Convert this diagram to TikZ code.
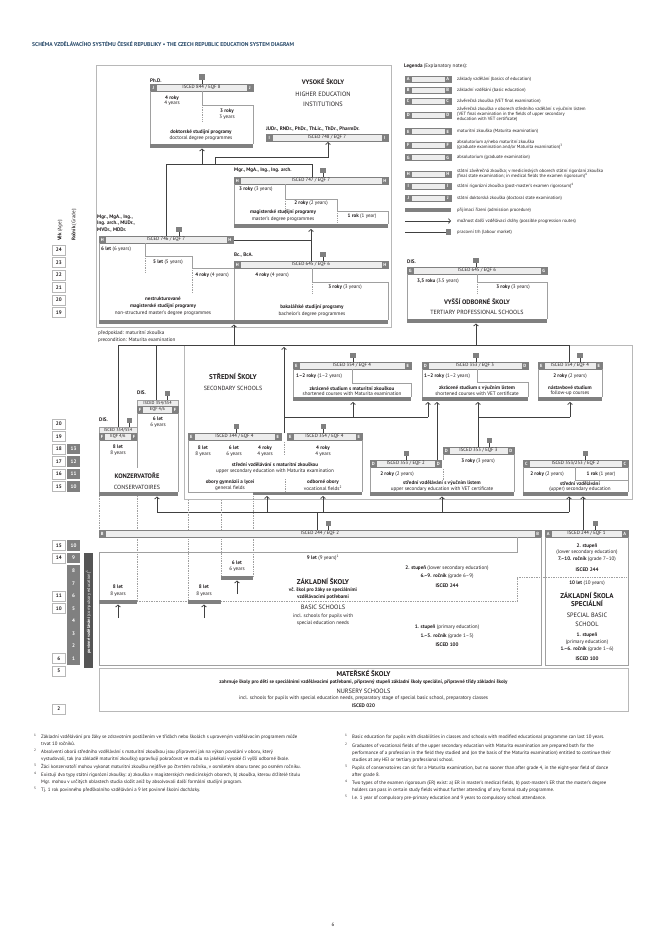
\documentclass[tikz,border=0pt]{standalone}
\usepackage{fontspec}
\setmainfont{PT Sans}
\usetikzlibrary{arrows.meta}
\definecolor{dk}{RGB}{128,128,128}
\definecolor{lt}{RGB}{237,237,237}
\definecolor{fr}{RGB}{184,184,184}
\definecolor{olc}{RGB}{160,160,160}
\definecolor{ln}{RGB}{64,64,64}
\definecolor{txc}{RGB}{35,31,32}
\definecolor{ttl}{RGB}{38,72,104}
\definecolor{cmp}{RGB}{85,85,85}
\tikzset{
 tx/.style={inner sep=0pt,font=\fontsize{5.1}{6}\selectfont,text=txc},
 tb/.style={inner sep=0pt,font=\fontsize{5.1}{6}\selectfont\bfseries,text=txc},
 tbig/.style={inner sep=0pt,font=\fontsize{7}{8}\selectfont\bfseries,text=txc},
 tmid/.style={inner sep=0pt,font=\fontsize{6.3}{7}\selectfont,text=txc},
 lgt/.style={inner sep=0pt,font=\fontsize{4.6}{5.3}\selectfont,text=txc,align=left},
 fnt/.style={inner sep=0pt,font=\fontsize{4.85}{5.3}\selectfont,text=txc},
 lettx/.style={inner sep=0pt,font=\fontsize{4.5}{5}\selectfont\bfseries,text=white},
 btx/.style={inner sep=0pt,font=\fontsize{4.8}{5}\selectfont,text=txc},
 frm/.style={draw=fr,line width=0.8pt},
 outl/.style={draw=olc,line width=0.6pt},
 dotln/.style={draw=olc,line width=0.5pt,dash pattern=on 0.6pt off 1.1pt},
 con/.style={draw=ln,line width=0.75pt},
 arr/.style={draw=ln,line width=0.75pt,-{Straight Barb[length=2pt,width=4.6pt]}},
}
\newcommand{\iscbar}[5]{%
 \draw[draw=dk,fill=lt,line width=0.5pt] (#1,#3) rectangle (#2,#3+7);
 \fill[dk] (#1,#3) rectangle (#1+6.5,#3+7);
 \fill[dk] (#2-6.5,#3) rectangle (#2,#3+7);
 \node[lettx] at (#1+3.25,#3+3.6) {#4};
 \node[lettx] at (#2-3.25,#3+3.6) {#4};
 \node[btx] at ({(#1+#2)/2},#3+3.6) {#5};}
\newcommand{\labsq}[2]{%
 \draw[con,line width=0.6pt] (#1,#2-4) -- (#1,#2);
 \fill[dk] (#1-2.7,#2-9.5) rectangle (#1+2.7,#2-4);}
\newcommand{\exbar}[3]{\fill[dk] (#1,#3) rectangle (#2,#3+3.5);}
\newcommand{\lgbar}[2]{%
 \draw[draw=dk,fill=lt,line width=0.5pt] (405,#1-3.2) rectangle (451,#1+3.2);
 \fill[dk] (405,#1-3.2) rectangle (411.5,#1+3.2);
 \fill[dk] (444.5,#1-3.2) rectangle (451,#1+3.2);
 \node[lettx] at (408.25,#1) {#2};
 \node[lettx] at (447.75,#1) {#2};}
\newcommand{\agebx}[2]{\draw[draw=fr,fill=white,line width=0.6pt] (52,#1-5.2) rectangle (65.5,#1+5.2); \node[tb] at (58.75,#1) {#2};}
\newcommand{\grbx}[2]{\fill[dk] (67,#1-5.2) rectangle (80,#1+5.2); \node[tb,text=white] at (73.5,#1) {#2};}
\begin{document}
\begin{tikzpicture}[x=1pt,y=-1pt]
\useasboundingbox[fill=white] (0,0) rectangle (667,947);
% title
\node[anchor=west,inner sep=0pt,font=\fontsize{5.6}{6}\selectfont\bfseries,text=ttl] (title) at (32,44) {SCHÉMA VZDĚLÁVACÍHO SYSTÉMU ČESKÉ REPUBLIKY • THE CZECH REPUBLIC EDUCATION SYSTEM DIAGRAM};
% legend
\node[tx,anchor=west] (leg) at (404,66) {\textbf{Legenda} (Explanatory notes):};
\lgbar{79}{A}\node[lgt,anchor=west] at (457,79) {základy vzdělání (basics of education)};
\lgbar{90}{B}\node[lgt,anchor=west] at (457,90) {základní vzdělání (basic education)};
\lgbar{101}{C}\node[lgt,anchor=west] at (457,101) {závěrečná zkouška (VET final examination)};
\lgbar{115}{D}\node[lgt,anchor=west] at (457,114.5) {závěrečná zkouška v oborech středního vzdělání s výučním listem\\(VET final examination in the fields of upper secondary\\education with VET certificate)};
\lgbar{131.5}{E}\node[lgt,anchor=west] at (457,131.5) {maturitní zkouška (Maturita examination)};
\lgbar{145}{F}\node[lgt,anchor=west] at (457,145) {absolutorium a/nebo maturitní zkouška\\(graduate examination and/or Maturita examination)\textsuperscript{3}};
\lgbar{157.5}{G}\node[lgt,anchor=west] at (457,157.5) {absolutorium (graduate examination)};
\lgbar{174}{H}\node[lgt,anchor=west] at (457,174) {státní závěrečná zkouška; v medicínských oborech státní rigorózní zkouška\\(final state examination; in medical fields the examen rigorosum)\textsuperscript{4}};
\lgbar{186}{I}\node[lgt,anchor=west] at (457,186) {státní rigorózní zkouška (post-master's examen rigorosum)\textsuperscript{4}};
\lgbar{198}{J}\node[lgt,anchor=west] at (457,198) {státní doktorská zkouška (doctoral state examination)};
\fill[dk] (405,208) rectangle (451,212);\node[lgt,anchor=west] at (457,210) {přijímací řízení (admission procedure)};
\coordinate (la1) at (405,221);\coordinate (la2) at (451,221);
\draw[arr] (la1) -- (la2);\node[lgt,anchor=west] at (457,221) {možnost další vzdělávací dráhy (possible progression routes)};
\draw[con] (405,232) -- (446,232);\fill[dk] (445.5,229.3) rectangle (451,234.7);\node[lgt,anchor=west] at (457,232) {pracovní trh (labour market)};
% ===== higher education frame
\draw[frm] (96,65) rectangle (391,327);
\node[tbig,font=\fontsize{6.5}{7}\selectfont\bfseries] (vs) at (323,82) {VYSOKÉ ŠKOLY};
\node[tmid] at (323,94) {HIGHER EDUCATION};
\node[tmid] at (323,104) {INSTITUTIONS};
% PhD
\node[tb,anchor=west] at (150,80.5) {Ph.D.};
\labsq{202}{84}
\iscbar{150}{253}{84}{J}{ISCED 844 / EQF 8}
\draw[outl] (150,91) -- (150,144);
\draw[outl] (202,91) -- (202,105) -- (253,105) -- (253,144);
\draw[dotln] (202,107) -- (202,122);
\node[tb] at (172,98) {4 roky};\node[tx] at (172,103.5) {4 years};
\node[tb] at (227,111) {3 roky};\node[tx] at (227,117) {3 years};
\node[tb] at (201,132) {doktorské studijní programy};
\node[tx] at (201,138.5) {doctoral degree programmes};
\exbar{150}{253}{144}
% JUDr
\node[tb,anchor=west] at (266,129) {JUDr., RNDr., PhDr., ThLic., ThDr., PharmDr.};
\iscbar{266}{388}{134}{I}{ISCED 748 / EQF 7}
% connectors top
\coordinate (h1) at (166,164);\coordinate (h2) at (312,164);
\draw[con] (h1) -- (h2);
\draw[arr] (202,164) -- (202,148.5);
\draw[arr] (215,164) -- (215,157) -- (328,157) -- (328,142);
\draw[con] (166,236) -- (h1);
\draw[con] (312,177) -- (h2);
% master 747
\node[tb,anchor=west] at (234,170) {Mgr., MgA., Ing., Ing. arch.};
\labsq{323}{177}
\iscbar{234}{388}{177}{H}{ISCED 747 / EQF 7}
\draw[outl] (234,184) -- (234,224);
\draw[outl] (285,184) -- (285,199) -- (337,199) -- (337,211) -- (388,211) -- (388,224);
\draw[dotln] (285,201) -- (285,214);
\draw[dotln] (337,213) -- (337,222);
\node[tx,anchor=west] at (239,189) {\textbf{3 roky} (3 years)};
\node[tx] at (311,203) {\textbf{2 roky} (2 years)};
\node[tb] at (283,212) {magisterské studijní programy};
\node[tx] at (283,219) {master's degree programmes};
\node[tx] at (362,216) {\textbf{1 rok} (1 year)};
\exbar{234}{388}{224}
\draw[arr] (311,261) -- (311,229);
\draw[con] (233,240) -- (311,240);
% 746
\node[tb,anchor=west] at (97,217) {Mgr., MgA., Ing.,};
\node[tb,anchor=west] at (97,223.5) {Ing. arch., MUDr.,};
\node[tb,anchor=west] at (97,230) {MVDr., MDDr.};
\labsq{179}{236}
\iscbar{99}{233}{236}{H}{ISCED 746 / EQF 7}
\draw[outl] (99,243) -- (99,320);
\draw[outl] (145,243) -- (145,256) -- (192,256) -- (192,268) -- (234,268) -- (234,320);
\draw[dotln] (145,258) -- (145,272);
\draw[dotln] (192,270) -- (192,293);
\node[tx,anchor=west] at (101,249) {\textbf{6 let} (6 years)};
\node[tx] at (168,262) {\textbf{5 let} (5 years)};
\node[tx] at (212,275) {\textbf{4 roky} (4 years)};
\node[tb] at (163,299) {nestrukturované};
\node[tb] at (163,306) {magisterské studijní programy};
\node[tx] at (163,313) {non-structured master's degree programmes};
\exbar{99}{234}{320}
% 645
\node[tb,anchor=west] at (234,255) {Bc., BcA.};
\labsq{323}{261}
\iscbar{234}{388}{261}{H}{ISCED 645 / EQF 6}
\draw[outl] (312,268) -- (312,282) -- (388,282) -- (388,320);
\draw[dotln] (312,284) -- (312,294);
\node[tx] at (272,275) {\textbf{4 roky} (4 years)};
\node[tx] at (345,287) {\textbf{3 roky} (3 years)};
\node[tb] at (312,307) {bakalářské studijní programy};
\node[tx] at (312,314) {bachelor's degree programmes};
\exbar{234}{388}{320}
\node[tx,anchor=west] at (98,333) {předpoklad: maturitní zkouška};
\node[tx,anchor=west] at (98,340) {precondition: Maturita examination};
% VOS
\node[tb,anchor=west] at (407,262) {DIS.};
\labsq{476}{267}
\iscbar{407}{547}{267}{G}{ISCED 645 / EQF 6}
\draw[outl] (407,274) -- (407,319);
\draw[outl] (477,274) -- (477,282) -- (547,282) -- (547,319);
\draw[dotln] (477,284) -- (477,294);
\node[tx] at (438,281) {\textbf{3,5 roku} (3.5 years)};
\node[tx] at (513,287) {\textbf{3 roky} (3 years)};
\node[tbig,font=\fontsize{6.5}{7}\selectfont\bfseries] at (477,302) {VYŠŠÍ ODBORNÉ ŠKOLY};
\node[tmid,font=\fontsize{6}{7}\selectfont] at (477,312) {TERTIARY PROFESSIONAL SCHOOLS};
\exbar{407}{547}{319}
% ===== secondary frame
\draw[frm] (184,345) rectangle (632,499);
\coordinate (m1) at (118,345);\coordinate (m2) at (569,345);
\draw[con] (m1) -- (m2);
\draw[arr] (234,345) -- (234,324.5);
\draw[arr] (476,345) -- (476,323.5);
\draw[con] (m1) -- (118,427);
\draw[con] (156,345) -- (156,400);
\draw[con] (m2) -- (569,362);
\node[tbig] at (233,377) {STŘEDNÍ ŠKOLY};
\node[tmid,font=\fontsize{6}{7}\selectfont] at (233,388) {SECONDARY SCHOOLS};
% shortened maturita
\labsq{353}{362}
\iscbar{293}{411}{362}{E}{ISCED 354 / EQF 4}
\node[tx,anchor=west] at (296,376) {\textbf{1–2 roky} (1–2 years)};
\draw[outl] (293,369) -- (293,397);
\draw[outl] (352,369) -- (352,383) -- (411,383) -- (411,397);
\node[tb] at (352,388.5) {zkrácené studium s maturitní zkouškou};
\node[tx] at (352,394) {shortened courses with Maturita examination};
\exbar{293}{411}{397}
% shortened VET
\labsq{476}{362}
\iscbar{422}{528}{362}{D}{ISCED 353 / EQF 3}
\node[tx,anchor=west] at (424,376) {\textbf{1–2 roky} (1–2 years)};
\draw[outl] (422,369) -- (422,397);
\draw[outl] (477,369) -- (477,382) -- (528,382) -- (528,397);
\node[tb] at (477,388) {zkrácené studium s výučním listem};
\node[tx] at (477,393.5) {shortened courses with VET certificate};
\exbar{422}{528}{397}
% follow-up
\labsq{580}{362}
\iscbar{538}{602}{362}{E}{ISCED 354 / EQF 4}
\node[tx] at (570,376) {\textbf{2 roky} (2 years)};
\draw[outl] (538,369) -- (538,397);
\draw[outl] (602,369) -- (602,397);
\node[tb] at (570,387.5) {nástavbové studium};
\node[tx] at (570,393) {follow-up courses};
\exbar{538}{602}{397}
% connectors secondary
\draw[con] (284,417) -- (428,417);
\draw[arr] (353,417) -- (353,402);
\draw[arr] (428,417) -- (428,402);
\draw[arr] (437,460) -- (437,402);
\draw[arr] (478,447) -- (478,402);
\draw[con] (478,417) -- (570,417);
\draw[arr] (570,417) -- (570,402);
\draw[arr] (284,433) -- (284,347);
% Maturita 344/354
\labsq{236.5}{433}
\labsq{323.5}{433}
\iscbar{188}{281}{433}{E}{ISCED 344 / EQF 4}
\iscbar{287}{362}{433}{E}{ISCED 354 / EQF 4}
\node[tb] at (203,448) {8 let};\node[tx] at (203,454) {8 years};
\node[tb] at (234,448) {6 let};\node[tx] at (234,454) {6 years};
\node[tb] at (265,448) {4 roky};\node[tx] at (265,454) {4 years};
\node[tb] at (323,448) {4 roky};\node[tx] at (323,454) {4 years};
\draw[dotln] (284,442) -- (284,455);
\node[tb] at (275,464.5) {střední vzdělávání s maturitní zkouškou};
\node[tx] at (275,471) {upper secondary education with Maturita examination};
\node[tb] at (230,482) {obory gymnázií a lyceí};
\node[tx] at (230,488) {general fields};
\node[tb] at (323,482) {odborné obory};
\node[tx] at (323,488) {vocational fields\textsuperscript{2}};
\draw[dotln] (285,479) -- (285,491);
\draw[outl] (188,440) -- (188,492) -- (253,492);
\draw[outl] (362,440) -- (362,492);
\exbar{253}{362}{491.5}
% D 2 years / 3 years
\labsq{406.5}{460}
\iscbar{370}{441.5}{460}{D}{ISCED 353 / EQF 2}
\node[tx] at (397,474.5) {\textbf{2 roky} (2 years)};
\draw[outl] (370,467) -- (370,492);
\draw[dotln] (443,469) -- (443,480);
\labsq{489.5}{447}
\iscbar{443}{514}{447}{D}{ISCED 353 / EQF 3}
\node[tx] at (478,461) {\textbf{3 roky} (3 years)};
\draw[outl] (443,454) -- (443,460);
\draw[outl] (514,454) -- (514,492);
\node[tb] at (442,483) {střední vzdělávání s výučním listem};
\node[tx] at (442,489) {upper secondary education with VET certificate};
\exbar{370}{514}{492}
% C
\labsq{585.5}{460}
\iscbar{523}{628}{460}{C}{ISCED 353/253 / EQF 2}
\node[tx] at (547,474) {\textbf{2 roky} (2 years)};
\node[tx] at (601,474) {\textbf{1 rok} (1 year)};
\draw[outl] (523,467) -- (523,492);
\draw[outl] (628,467) -- (628,492);
\draw[outl] (575,467) -- (575,480) -- (628,480);
\node[tb] at (580,483.5) {střední vzdělávání};
\node[tx] at (580,489) {(upper) secondary education};
\exbar{523}{628}{492}
% conservatories
\node[tb,anchor=west] at (99,420) {DIS.};
\labsq{129.5}{427}
\draw[outl,fill=lt] (99,427) rectangle (137,433);
\node[btx,font=\fontsize{4.4}{5}\selectfont] at (118,430) {ISCED 354/554};
\draw[draw=dk,fill=lt,line width=0.5pt] (99,433) rectangle (137,440);
\fill[dk] (99,433) rectangle (105,440);\fill[dk] (131,433) rectangle (137,440);
\node[lettx] at (102,436.6) {F};\node[lettx] at (134,436.6) {F};
\node[btx,font=\fontsize{4.4}{5}\selectfont] at (118,436.6) {EQF 4/6};
\node[tb,anchor=west] at (137,393) {DIS.};
\labsq{167.5}{400}
\draw[outl,fill=lt] (137,400) rectangle (178,406.5);
\node[btx,font=\fontsize{4.4}{5}\selectfont] at (157.5,403.3) {ISCED 354/554};
\draw[draw=dk,fill=lt,line width=0.5pt] (137,406.5) rectangle (178,413);
\fill[dk] (137,406.5) rectangle (143,413);\fill[dk] (172,406.5) rectangle (178,413);
\node[lettx] at (140,409.8) {F};\node[lettx] at (175,409.8) {F};
\node[btx,font=\fontsize{4.4}{5}\selectfont] at (157.5,409.8) {EQF 4/6};
\node[tb] at (158,419) {6 let};\node[tx] at (158,425) {6 years};
\node[tb] at (118,447) {8 let};\node[tx] at (118,453) {8 years};
\draw[outl] (99,440) -- (99,492);
\draw[outl] (137,413) -- (137,468);
\draw[outl] (178,413) -- (178,492);
\node[tbig,font=\fontsize{6.5}{7}\selectfont\bfseries] at (137,476) {KONZERVATOŘE};
\node[tmid,font=\fontsize{6}{7}\selectfont] at (137,487) {CONSERVATOIRES};
\exbar{99}{178}{492}
% lower connectors
\coordinate (b1) at (157,512);\coordinate (b2) at (569,512);
\draw[con] (b1) -- (b2);
\draw[arr] (b1) -- (157,496.5);
\draw[arr] (267,512) -- (267,496);
\draw[arr] (323,512) -- (323,496);
\draw[arr] (442,512) -- (442,496.5);
\draw[arr] (b2) -- (569,496.5);
\draw[con] (317,530) -- (317,512);
\draw[arr] (583,530) -- (583,496.5);
% dotted grade guides
\draw[dotln] (99,496) -- (99,530);
\draw[dotln] (137,496) -- (137,600);
\draw[dotln] (188,500) -- (188,600);
\draw[dotln] (221,500) -- (221,576);
\draw[dotln] (253,496) -- (253,576);
\draw[dotln] (137,601.5) -- (188,601.5);
\draw[dotln] (221,601.5) -- (517,601.5);
\draw[dotln] (517,577.5) -- (517,601.5);
\draw[dotln] (517,577.5) -- (628,577.5);
% basic schools
\labsq{328.5}{530}
\iscbar{99}{541}{530}{B}{ISCED 244 / EQF 2}
\draw[outl] (99,552) -- (517,552) -- (517,537);
\draw[outl] (99,552) -- (99,665) -- (541,665) -- (541,537);
\exbar{99}{137}{600}
\exbar{188}{221}{600}
\exbar{221}{253}{576}
\node[tb] at (118,587) {8 let};\node[tx] at (118,594) {8 years};
\node[tb] at (204,587) {8 let};\node[tx] at (204,594) {8 years};
\node[tb] at (237,562.5) {6 let};\node[tx] at (237,569) {6 years};
\draw[arr] (118,618) -- (118,604.5);
\draw[arr] (204,618) -- (204,604.5);
\draw[arr] (237,594) -- (237,580.5);
\node[tx] at (323,558) {\textbf{9 let} (9 years)\textsuperscript{1}};
\node[tbig] at (323,581) {ZÁKLADNÍ ŠKOLY};
\node[tb] at (323,590) {vč. škol pro žáky se speciálními};
\node[tb] at (323,597) {vzdělávacími potřebami};
\node[tmid] at (323,607.5) {BASIC SCHOOLS};
\node[tx] at (323,616) {incl. schools for pupils with};
\node[tx] at (323,623) {special education needs};
\node[tx] at (447,568) {\textbf{2. stupeň} (lower secondary education)};
\node[tx] at (447,576) {\textbf{6.–9. ročník} (grade 6–9)};
\node[tb] at (447,586) {ISCED 244};
\node[tx] at (447,627) {\textbf{1. stupeň} (primary education)};
\node[tx] at (447,636) {\textbf{1.–5. ročník} (grade 1–5)};
\node[tb] at (447,645) {ISCED 100};
% special basic
\labsq{595.5}{530}
\iscbar{545}{628}{530}{A}{ISCED 244 / EQF 1}
\draw[outl] (545,537) -- (545,665) -- (628,665) -- (628,537);
\node[tb] at (587,546) {2. stupeň};
\node[tx] at (587,552.5) {(lower secondary education)};
\node[tx] at (587,559) {\textbf{7.–10. ročník} (grade 7–10)};
\node[tb] at (587,570) {ISCED 244};
\node[tx] at (587,583.5) {\textbf{10 let} (10 years)};
\node[tbig] at (587,595) {ZÁKLADNÍ ŠKOLA};
\node[tbig] at (587,603.5) {SPECIÁLNÍ};
\node[tmid] at (587,615) {SPECIAL BASIC};
\node[tmid] at (587,624.5) {SCHOOL};
\node[tb] at (587,635) {1. stupeň};
\node[tx] at (587,642) {(primary education)};
\node[tx] at (587,649.5) {\textbf{1.–6. ročník} (grade 1–6)};
\node[tb] at (587,659) {ISCED 100};
% nursery
\draw[frm] (99,668) rectangle (628,711);
\node[tbig] at (363.5,673.5) {MATEŘSKÉ ŠKOLY};
\node[tb,font=\fontsize{5}{6}\selectfont\bfseries] at (363.5,682) {zahrnuje školy pro děti se speciálními vzdělávacími potřebami, připravný stupeň základní školy speciální, přípravné třídy základní školy};
\node[tmid] at (363.5,691) {NURSERY SCHOOLS};
\node[tx] at (363.5,698.5) {incl. schools for pupils with special education needs, preparatory stage of special basic school, preparatory classes};
\node[tb] at (363.5,705.5) {ISCED 020};
% compulsory bar
\fill[cmp] (84,553) rectangle (93,668);
\node[inner sep=0pt,rotate=90,text=white,font=\fontsize{4.4}{5}\selectfont] at (88.5,612) {\textbf{povinné vzdělávání} (compulsory education)\textsuperscript{5}};
% axis labels
\node[tx,rotate=90,anchor=west] at (60,241) {\textbf{Věk} (Age):};
\node[tx,rotate=90,anchor=west] at (74,241) {\textbf{Ročník} (Grade):};
\agebx{250}{24}\agebx{262.5}{23}\agebx{275}{22}\agebx{287.5}{21}\agebx{300}{20}\agebx{312.5}{19}
\agebx{424}{20}\agebx{436.5}{19}\agebx{449}{18}\agebx{461.5}{17}\agebx{474}{16}\agebx{486.5}{15}
\grbx{449}{13}\grbx{461.5}{12}\grbx{474}{11}\grbx{486.5}{10}
\agebx{545.5}{15}\agebx{558}{14}\grbx{545.5}{10}\grbx{558}{9}
\fill[dk] (67,564.5) rectangle (80,665);
\foreach \yy/\gg in {571/8,583.5/7,596/6,608.5/5,621/4,633.5/3,646/2,658.5/1} {\node[tb,text=white] at (73.5,\yy) {\gg};}
\agebx{596}{11}\agebx{608.5}{10}\agebx{658.5}{6}\agebx{671}{5}\agebx{709}{2}
% footnotes left
\node[fnt,anchor=west] at (34,736) {\textsuperscript{1}};
\node[fnt,anchor=west] at (41,737) {Základní vzdělávání pro žáky se zdravotním postižením ve třídách nebo školách s upraveným vzdělávacím programem může};
\node[fnt,anchor=west] at (41,744) {trvat 10 ročníků.};
\node[fnt,anchor=west] at (34,751) {\textsuperscript{2}};
\node[fnt,anchor=west] at (41,752) {Absolventi oborů středního vzdělávání s maturitní zkouškou jsou připraveni jak na výkon povolání v oboru, který};
\node[fnt,anchor=west] at (41,759) {vystudovali, tak (na základě maturitní zkoušky) opravňují pokračovat ve studiu na jakékoli vysoké či vyšší odborné škole.};
\node[fnt,anchor=west] at (34,766) {\textsuperscript{3}};
\node[fnt,anchor=west] at (41,767) {Žáci konzervatoří mohou vykonat maturitní zkoušku nejdříve po čtvrtém ročníku, v osmiletém oboru tanec po osmém ročníku.};
\node[fnt,anchor=west] at (34,774) {\textsuperscript{4}};
\node[fnt,anchor=west] at (41,775) {Existují dva typy státní rigorózní zkoušky: a) zkouška v magisterských medicínských oborech, b) zkouška, kterou držitelé titulu};
\node[fnt,anchor=west] at (41,782) {Mgr. mohou v určitých oblastech studia složit aniž by absolvovali další formální studijní program.};
\node[fnt,anchor=west] at (34,789) {\textsuperscript{5}};
\node[fnt,anchor=west] at (41,790) {Tj. 1 rok povinného předškolního vzdělávání a 9 let povinné školní docházky.};
% footnotes right
\node[fnt,anchor=west] at (345,736) {\textsuperscript{1}};
\node[fnt,anchor=west] at (352,737) {Basic education for pupils with disabilities in classes and schools with modified educational programme can last 10 years.};
\node[fnt,anchor=west] at (345,745) {\textsuperscript{2}};
\node[fnt,anchor=west] at (352,746) {Graduates of vocational fields of the upper secondary education with Maturita examination are prepared both for the};
\node[fnt,anchor=west] at (352,753) {performance of a profession in the field they studied and (on the basis of the Maturita examination) entitled to continue their};
\node[fnt,anchor=west] at (352,760) {studies at any HEI or tertiary professional school.};
\node[fnt,anchor=west] at (345,767) {\textsuperscript{3}};
\node[fnt,anchor=west] at (352,768) {Pupils of conservatoires can sit for a Maturita examination, but no sooner than after grade 4, in the eight-year field of dance};
\node[fnt,anchor=west] at (352,775) {after grade 8.};
\node[fnt,anchor=west] at (345,782) {\textsuperscript{4}};
\node[fnt,anchor=west] at (352,783) {Two types of the examen rigorosum (ER) exist: a) ER in master's medical fields, b) post-master's ER that the master's degree};
\node[fnt,anchor=west] at (352,790) {holders can pass in certain study fields without further attending of any formal study programme.};
\node[fnt,anchor=west] at (345,797) {\textsuperscript{5}};
\node[fnt,anchor=west] at (352,798) {I.e. 1 year of compulsory pre-primary education and 9 years to compulsory school attendance.};
\node[tx] (pg) at (333,925) {6};
\end{tikzpicture}
\end{document}
